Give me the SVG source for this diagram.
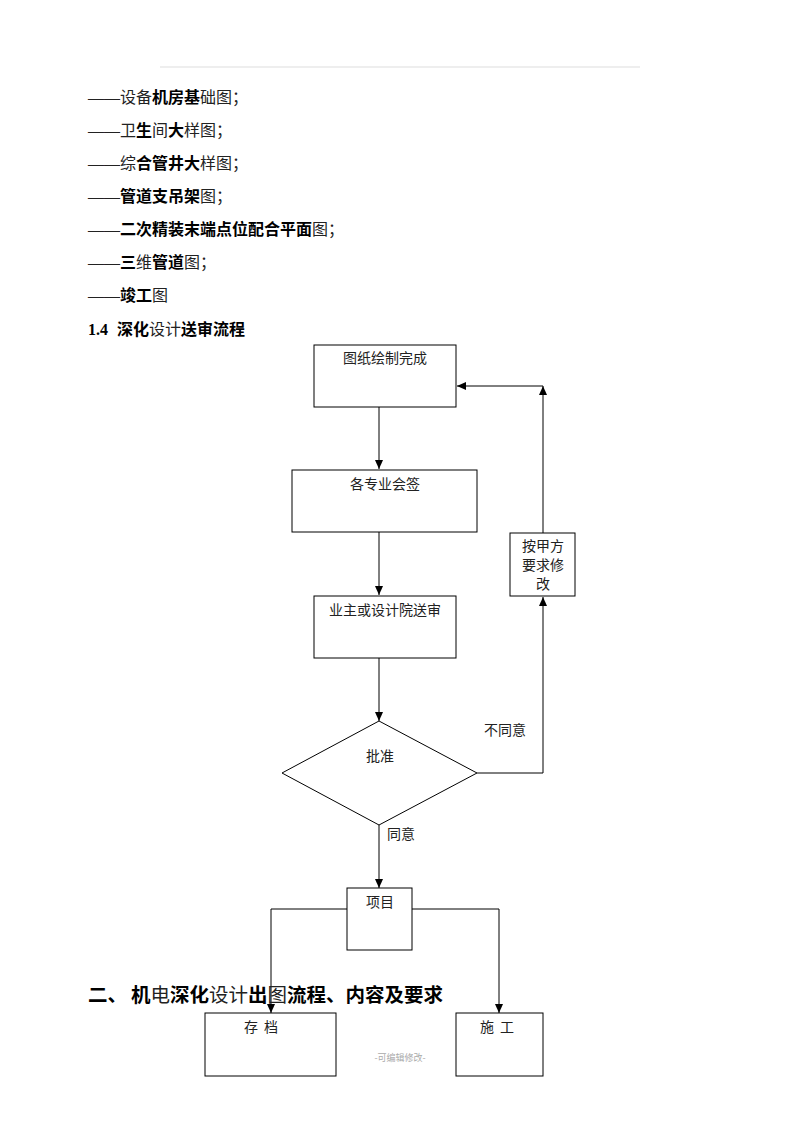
<svg xmlns="http://www.w3.org/2000/svg" width="800" height="1132" viewBox="0 0 800 1132">
<style>
.t{font-family:"Liberation Serif","Noto Sans CJK SC",serif;font-size:16px;fill:#222}
.b{font-weight:bold;fill:#000}
.bx{fill:#fff;stroke:#000;stroke-width:1}
.lbl{font-family:"Liberation Serif","Noto Sans CJK SC",serif;font-size:14px;fill:#222;text-anchor:middle}
.ln{fill:none;stroke:#000;stroke-width:1}
</style>
<defs>
<marker id="ah" markerWidth="10" markerHeight="10" refX="9" refY="5" orient="auto" markerUnits="userSpaceOnUse">
<path d="M0,1 L9,5 L0,9 Z" fill="#000"/>
</marker>
</defs>
<rect width="800" height="1132" fill="#fff"/>
<line x1="160" y1="67" x2="640" y2="67" stroke="#ddd" stroke-width="1"/>
<g id="list">
<text class="t" x="88" y="103">——设备<tspan class="b">机房基</tspan>础图；</text>
<text class="t" x="88" y="136">——卫<tspan class="b">生</tspan>间<tspan class="b">大</tspan>样图；</text>
<text class="t" x="88" y="169">——综<tspan class="b">合管井大</tspan>样图；</text>
<text class="t" x="88" y="202">——<tspan class="b">管道支吊架</tspan>图；</text>
<text class="t" x="88" y="235">——<tspan class="b">二次精装末端点位配合平面</tspan>图；</text>
<text class="t" x="88" y="268">——<tspan class="b">三</tspan>维<tspan class="b">管道</tspan>图；</text>
<text class="t" x="88" y="301">——<tspan class="b">竣工</tspan>图</text>
<text class="t" x="88" y="335"><tspan class="b">1.4</tspan><tspan class="b" x="117">深化</tspan>设计<tspan class="b">送审流程</tspan></text>
</g>
<g id="connectors">
<line class="ln" x1="379" y1="407" x2="379" y2="469" marker-end="url(#ah)"/>
<line class="ln" x1="379" y1="532" x2="379" y2="595" marker-end="url(#ah)"/>
<line class="ln" x1="379" y1="658" x2="379" y2="721" marker-end="url(#ah)"/>
<polyline class="ln" points="477,773 543,773 543,597" marker-end="url(#ah)"/>
<line class="ln" x1="543" y1="533" x2="543" y2="386" marker-end="url(#ah)"/>
<line class="ln" x1="543" y1="386" x2="457" y2="386" marker-end="url(#ah)"/>
<line class="ln" x1="379" y1="825" x2="379" y2="888" marker-end="url(#ah)"/>
<polyline class="ln" points="347,909 271,909 271,1013" marker-end="url(#ah)"/>
<polyline class="ln" points="412,909 499,909 499,1013" marker-end="url(#ah)"/>
<text class="lbl" x="505" y="735">不同意</text>
<text class="lbl" x="401" y="839">同意</text>
</g>
<g id="n1"><rect class="bx" x="314" y="345" width="142" height="62"/><text class="lbl" x="385" y="363">图纸绘制完成</text></g>
<g id="n2"><rect class="bx" x="292" y="470" width="185" height="62"/><text class="lbl" x="385" y="489">各专业会签</text></g>
<g id="n3"><rect class="bx" x="314" y="596" width="142" height="62"/><text class="lbl" x="385" y="615">业主或设计院送审</text></g>
<g id="n4"><polygon class="bx" points="379,721 477,773 379,825 282,773"/><text class="lbl" x="380" y="761">批准</text></g>
<g id="n5"><rect class="bx" x="510" y="533" width="65" height="63"/><text class="lbl" x="543" y="551">按甲方</text><text class="lbl" x="543" y="570">要求修</text><text class="lbl" x="543" y="589">改</text></g>
<g id="n6"><rect class="bx" x="347" y="888" width="65" height="62"/><text class="lbl" x="380" y="907">项目</text></g>
<text class="t" x="88" y="1002" style="font-size:19.5px"><tspan class="b">二、</tspan><tspan class="b" x="131">机</tspan>电<tspan class="b">深化</tspan>设计<tspan class="b">出</tspan>图<tspan class="b">流程、内容及要求</tspan></text>
<g id="n7"><rect class="bx" x="205" y="1013" width="131" height="63"/><text class="lbl" x="251" y="1032">存</text><text class="lbl" x="271" y="1032">档</text></g>
<g id="n8"><rect class="bx" x="456" y="1013" width="87" height="63"/><text class="lbl" x="487" y="1032">施</text><text class="lbl" x="507" y="1032">工</text></g>
<text x="400" y="1061" style="font-family:'Noto Sans CJK SC',sans-serif;font-size:9px;fill:#aaa;text-anchor:middle">-可编辑修改-</text>
</svg>
